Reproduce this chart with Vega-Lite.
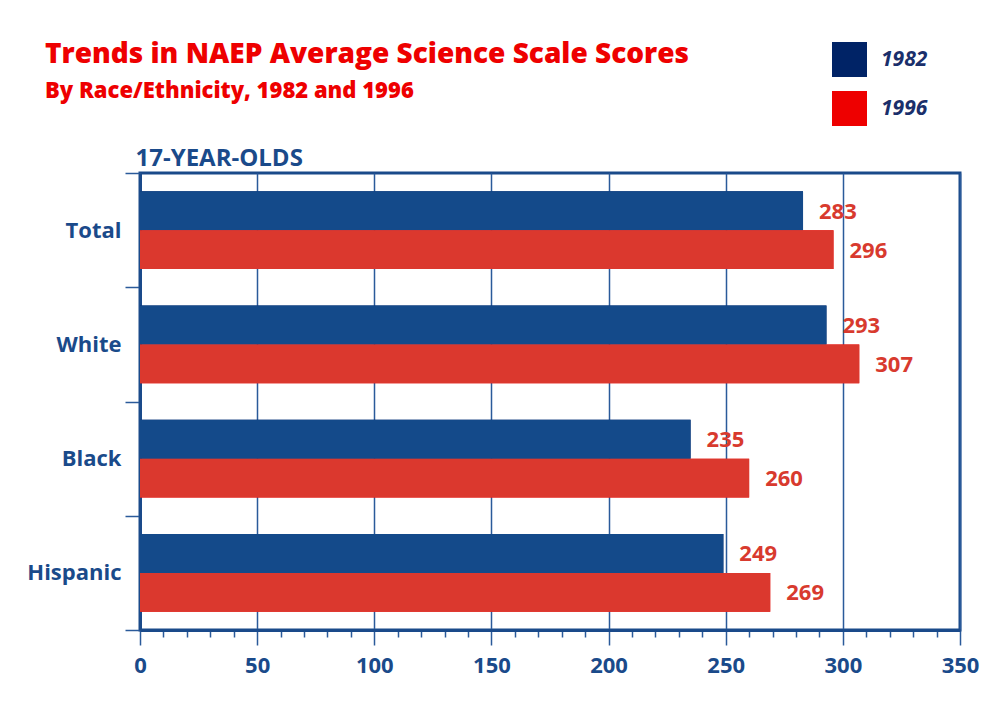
{
  "$schema": "https://vega.github.io/schema/vega-lite/v6.json",
  "width": 820,
  "height": 457,
  "autosize": "none",
  "padding": {"left": 140, "top": 173, "right": 45, "bottom": 76},
  "background": "white",
  "config": {
    "font": "Open Sans",
    "view": {"stroke": "#1a4a8a", "strokeWidth": 3}
  },
  "title": {
    "text": "Trends in NAEP Average Science Scale Scores",
    "subtitle": "By Race/Ethnicity, 1982 and 1996",
    "anchor": "start",
    "frame": "group",
    "dx": -95,
    "offset": -60,
    "fontSize": 28,
    "fontWeight": 800,
    "color": "#ee0000",
    "subtitleFontSize": 22,
    "subtitleFontWeight": 800,
    "subtitleColor": "#ee0000",
    "subtitlePadding": 12
  },
  "data": {
    "values": [
      {"group": "Total", "year": "1982", "score": 283},
      {"group": "Total", "year": "1996", "score": 296},
      {"group": "White", "year": "1982", "score": 293},
      {"group": "White", "year": "1996", "score": 307},
      {"group": "Black", "year": "1982", "score": 235},
      {"group": "Black", "year": "1996", "score": 260},
      {"group": "Hispanic", "year": "1982", "score": 249},
      {"group": "Hispanic", "year": "1996", "score": 269}
    ]
  },
  "encoding": {
    "x": {
      "field": "score",
      "type": "quantitative",
      "scale": {"domain": [0, 350], "nice": false, "zero": true},
      "axis": {
        "values": [0,10,20,30,40,50,60,70,80,90,100,110,120,130,140,150,160,170,180,190,200,210,220,230,240,250,260,270,280,290,300,310,320,330,340,350],
        "labelExpr": "datum.value % 50 === 0 ? datum.label : ''",
        "tickSize": {"condition": {"test": "datum.value % 50 === 0", "value": 15}, "value": 7},
        "gridOpacity": {"condition": {"test": "datum.value % 50 === 0", "value": 1}, "value": 0},
        "grid": true,
        "gridColor": "#2a5a9a",
        "gridWidth": 1.5,
        "tickColor": "#2a5a9a",
        "tickWidth": 1.5,
        "domainColor": "#1a4a8a",
        "domainWidth": 3,
        "labelFontSize": 22,
        "labelFontWeight": "bold",
        "labelColor": "#1a4a8a",
        "labelPadding": 10,
        "labelFlush": false,
        "labelOverlap": false,
        "labelBound": false,
        "title": null
      }
    },
    "y": {
      "field": "group",
      "type": "nominal",
      "sort": ["Total", "White", "Black", "Hispanic"],
      "scale": {"paddingInner": 0, "paddingOuter": 0},
      "axis": {
        "tickBand": "extent",
        "tickSize": 15,
        "tickColor": "#2a5a9a",
        "tickWidth": 1.5,
        "domainColor": "#1a4a8a",
        "domainWidth": 3,
        "labelFontSize": 22,
        "labelFontWeight": "bold",
        "labelColor": "#1a4a8a",
        "labelPadding": 4,
        "title": "17-YEAR-OLDS",
        "titleAngle": 0,
        "titleX": -5,
        "titleY": -8,
        "titleAlign": "left",
        "titleBaseline": "alphabetic",
        "titleFontSize": 24,
        "titleFontWeight": "bold",
        "titleColor": "#1a4a8a"
      }
    },
    "yOffset": {"field": "year", "type": "nominal", "sort": ["1982", "1996"], "scale": {"paddingInner": 0, "paddingOuter": 0.465}}
  },
  "layer": [
    {
      "mark": {"type": "bar"},
      "encoding": {
        "fill": {
          "field": "year",
          "type": "nominal",
          "scale": {"domain": ["1982", "1996"], "range": ["#002366", "#ee0000"]},
          "legend": {
            "orient": "none",
            "legendX": 692,
            "legendY": -131,
            "title": null,
            "symbolType": "square",
            "symbolSize": 1225,
            "symbolStrokeWidth": 0,
            "symbolOpacity": 1,
            "labelFontSize": 21,
            "labelFontStyle": "italic",
            "labelFontWeight": "bold",
            "labelColor": "#1a2f6b",
            "labelOffset": 14,
            "rowPadding": 14
          }
        }
      }
    },
    {
      "mark": {"type": "bar"},
      "encoding": {
        "color": {
          "field": "year",
          "type": "nominal",
          "scale": {"domain": ["1982", "1996"], "range": ["#144a8a", "#db382e"]},
          "legend": null
        }
      }
    },
    {
      "mark": {"type": "text", "align": "left", "dx": 16, "dy": 1, "fontSize": 22, "fontWeight": "bold", "color": "#d83a2e"},
      "encoding": {
        "text": {"field": "score", "type": "quantitative"}
      }
    }
  ]
}
